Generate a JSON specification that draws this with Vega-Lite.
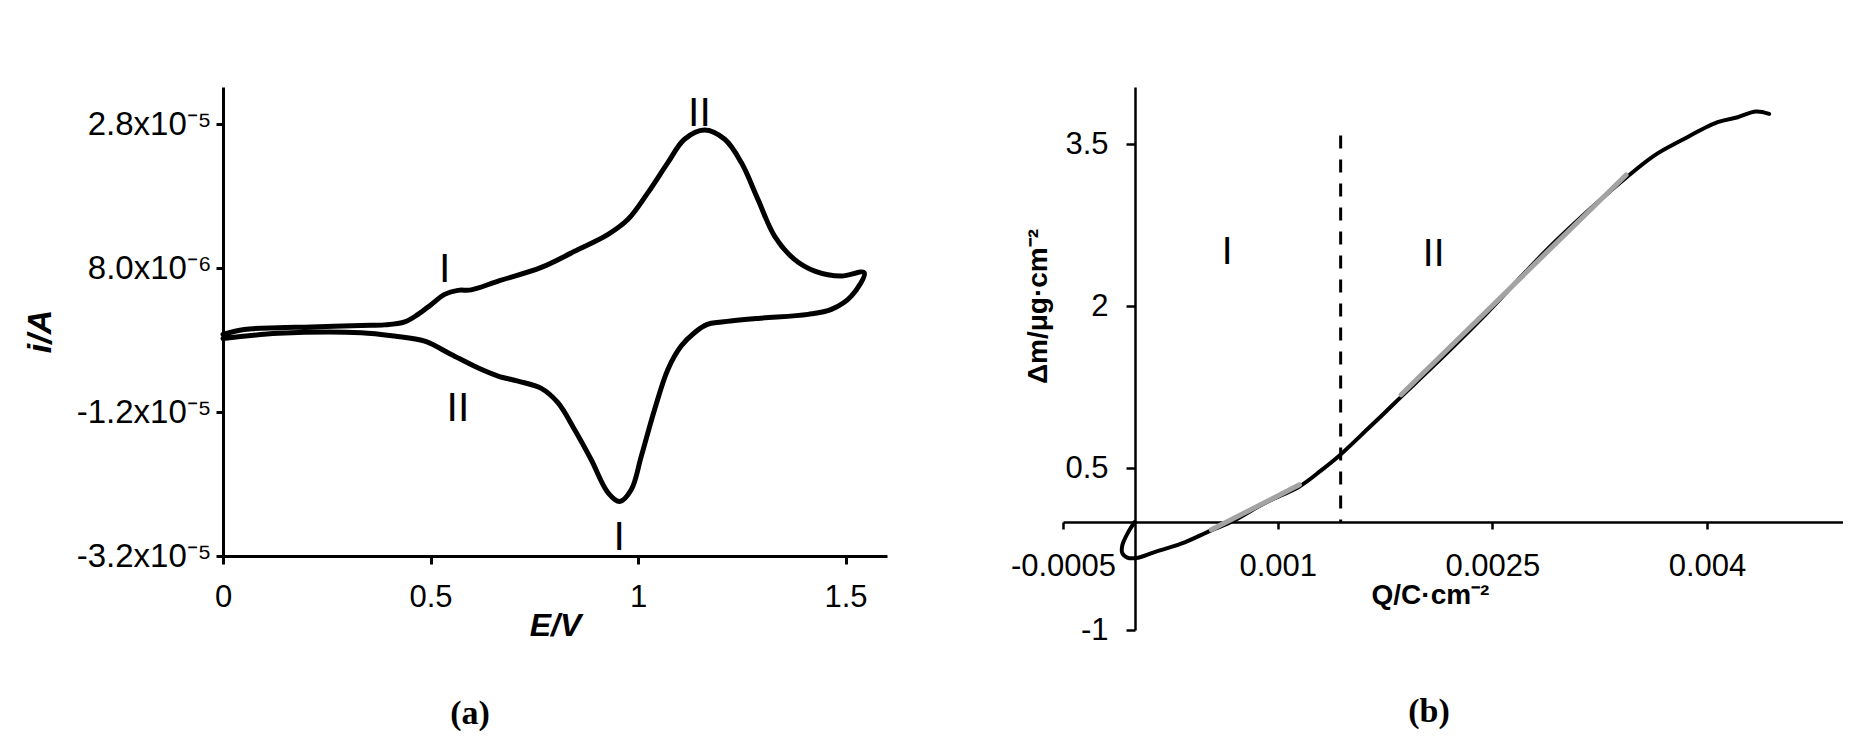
{
  "$schema": "https://vega.github.io/schema/vega-lite/v6.json",
  "background": "white",
  "padding": {"left": 23, "top": 87, "right": 0, "bottom": 0},
  "config": {
    "view": {"stroke": null},
    "font": "Liberation Sans",
    "axis": {"grid": false, "domainColor": "black", "tickColor": "black", "labelColor": "black", "titleColor": "black", "labelFont": "Liberation Sans", "titleFont": "Liberation Sans", "labelFlush": false, "labelOverlap": false}
  },
  "spacing": 176,
  "bounds": "flush",
  "hconcat": [
    {
      "width": 664,
      "height": 469,
      "title": {"text": "(a)", "orient": "bottom", "font": "Liberation Serif", "fontSize": 34, "fontWeight": "bold", "color": "black", "offset": 56, "dx": -85},
      "layer": [
        {
          "data": {"values": [
            {"k": 1, "E": 0.0, "i": -1.19e-6},
            {"k": 2, "E": 0.051, "i": -0.50e-6},
            {"k": 3, "E": 0.133, "i": -0.26e-6},
            {"k": 4, "E": 0.213, "i": -0.18e-6},
            {"k": 5, "E": 0.333, "i": 0.06e-6},
            {"k": 6, "E": 0.389, "i": 0.13e-6},
            {"k": 7, "E": 0.438, "i": 0.55e-6},
            {"k": 8, "E": 0.470, "i": 1.59e-6},
            {"k": 9, "E": 0.502, "i": 2.98e-6},
            {"k": 10, "E": 0.534, "i": 4.37e-6},
            {"k": 11, "E": 0.566, "i": 4.93e-6},
            {"k": 12, "E": 0.598, "i": 5.00e-6},
            {"k": 13, "E": 0.663, "i": 6.22e-6},
            {"k": 14, "E": 0.767, "i": 8.12e-6},
            {"k": 15, "E": 0.847, "i": 10.35e-6},
            {"k": 16, "E": 0.928, "i": 12.71e-6},
            {"k": 17, "E": 0.976, "i": 14.80e-6},
            {"k": 18, "E": 1.024, "i": 18.51e-6},
            {"k": 19, "E": 1.072, "i": 22.69e-6},
            {"k": 20, "E": 1.112, "i": 25.93e-6},
            {"k": 21, "E": 1.160, "i": 27.22e-6},
            {"k": 22, "E": 1.209, "i": 25.93e-6},
            {"k": 23, "E": 1.249, "i": 22.69e-6},
            {"k": 24, "E": 1.289, "i": 17.58e-6},
            {"k": 25, "E": 1.329, "i": 12.48e-6},
            {"k": 26, "E": 1.377, "i": 9.24e-6},
            {"k": 27, "E": 1.426, "i": 7.61e-6},
            {"k": 28, "E": 1.490, "i": 6.91e-6},
            {"k": 29, "E": 1.545, "i": 7.39e-6},
            {"k": 30, "E": 1.514, "i": 4.13e-6},
            {"k": 31, "E": 1.466, "i": 2.28e-6},
            {"k": 32, "E": 1.410, "i": 1.59e-6},
            {"k": 33, "E": 1.289, "i": 1.03e-6},
            {"k": 34, "E": 1.201, "i": 0.52e-6},
            {"k": 35, "E": 1.167, "i": 0.20e-6},
            {"k": 36, "E": 1.136, "i": -0.96e-6},
            {"k": 37, "E": 1.104, "i": -2.82e-6},
            {"k": 38, "E": 1.072, "i": -6.06e-6},
            {"k": 39, "E": 1.040, "i": -11.63e-6},
            {"k": 40, "E": 1.008, "i": -18.12e-6},
            {"k": 41, "E": 0.984, "i": -22.75e-6},
            {"k": 42, "E": 0.956, "i": -24.42e-6},
            {"k": 43, "E": 0.928, "i": -23.21e-6},
            {"k": 44, "E": 0.887, "i": -18.58e-6},
            {"k": 45, "E": 0.847, "i": -14.41e-6},
            {"k": 46, "E": 0.807, "i": -10.69e-6},
            {"k": 47, "E": 0.767, "i": -8.70e-6},
            {"k": 48, "E": 0.711, "i": -7.69e-6},
            {"k": 49, "E": 0.663, "i": -6.99e-6},
            {"k": 50, "E": 0.614, "i": -5.83e-6},
            {"k": 51, "E": 0.550, "i": -3.98e-6},
            {"k": 52, "E": 0.486, "i": -2.13e-6},
            {"k": 53, "E": 0.413, "i": -1.43e-6},
            {"k": 54, "E": 0.333, "i": -0.96e-6},
            {"k": 55, "E": 0.133, "i": -1.05e-6},
            {"k": 56, "E": 0.0, "i": -1.75e-6}
          ]},
          "mark": {"type": "line", "color": "black", "strokeWidth": 5, "interpolate": "catmull-rom", "strokeJoin": "round", "strokeCap": "round"},
          "encoding": {
            "x": {"field": "E", "type": "quantitative", "scale": {"domain": [0, 1.6], "nice": false, "zero": false},
              "axis": {"title": "E/V", "values": [0, 0.5, 1, 1.5], "labelExpr": "'' + datum.value", "labelFontSize": 31, "titleFontSize": 32, "titleFontWeight": "bold", "titleFontStyle": "italic", "tickSize": 8, "tickWidth": 3, "domainWidth": 3, "labelPadding": 18, "titlePadding": -2}},
            "y": {"field": "i", "type": "quantitative", "scale": {"domain": [-3.2e-5, 3.32e-5], "nice": false, "zero": false},
              "axis": {"title": "i/A", "values": [-3.2e-5, -1.2e-5, 8e-6, 2.8e-5], "labelExpr": "datum.value > 2e-5 ? '2.8x10⁻⁵' : datum.value > 0 ? '8.0x10⁻⁶' : datum.value > -2e-5 ? '-1.2x10⁻⁵' : '-3.2x10⁻⁵'", "labelFontSize": 33, "titleFontSize": 34, "titleFontWeight": "bold", "titleFontStyle": "italic", "titleY": 244, "tickSize": 7, "tickWidth": 3, "domainWidth": 3, "labelPadding": 5, "titlePadding": 19}},
            "order": {"field": "k", "type": "quantitative"}
          }
        },
        {
          "data": {"values": [
            {"t": "I", "E": 0.534, "i": 7.75e-6},
            {"t": "II", "E": 1.148, "i": 29.5e-6},
            {"t": "II", "E": 0.566, "i": -11.5e-6},
            {"t": "I", "E": 0.955, "i": -29.5e-6}
          ]},
          "mark": {"type": "text", "fontSize": 41, "font": "Liberation Sans", "color": "black", "baseline": "middle", "align": "center"},
          "encoding": {
            "x": {"field": "E", "type": "quantitative"},
            "y": {"field": "i", "type": "quantitative"},
            "text": {"field": "t"}
          }
        }
      ]
    },
    {
      "width": 780,
      "height": 543,
      "title": {"text": "(b)", "orient": "bottom", "font": "Liberation Serif", "fontSize": 34, "fontWeight": "bold", "color": "black", "offset": 50, "dx": -24},
      "layer": [
        {
          "data": {"values": [
            {"k": 1, "Q": 0.0, "m": 0.0},
            {"k": 2, "Q": -0.000044, "m": -0.093},
            {"k": 3, "Q": -0.000085, "m": -0.213},
            {"k": 4, "Q": -0.000086, "m": -0.287},
            {"k": 5, "Q": -0.000051, "m": -0.329},
            {"k": 6, "Q": 0.000012, "m": -0.333},
            {"k": 7, "Q": 0.000140, "m": -0.278},
            {"k": 8, "Q": 0.000326, "m": -0.201},
            {"k": 9, "Q": 0.000536, "m": -0.077},
            {"k": 10, "Q": 0.000675, "m": 0.0},
            {"k": 11, "Q": 0.000908, "m": 0.175},
            {"k": 12, "Q": 0.001152, "m": 0.33},
            {"k": 13, "Q": 0.001304, "m": 0.479},
            {"k": 14, "Q": 0.001432, "m": 0.617},
            {"k": 15, "Q": 0.001630, "m": 0.864},
            {"k": 16, "Q": 0.001746, "m": 1.010},
            {"k": 17, "Q": 0.001862, "m": 1.160},
            {"k": 18, "Q": 0.002100, "m": 1.460},
            {"k": 19, "Q": 0.002421, "m": 1.880},
            {"k": 20, "Q": 0.002887, "m": 2.530},
            {"k": 21, "Q": 0.003200, "m": 2.920},
            {"k": 22, "Q": 0.003434, "m": 3.190},
            {"k": 23, "Q": 0.003631, "m": 3.395},
            {"k": 24, "Q": 0.003818, "m": 3.534},
            {"k": 25, "Q": 0.004074, "m": 3.704},
            {"k": 26, "Q": 0.004214, "m": 3.750},
            {"k": 27, "Q": 0.004342, "m": 3.803},
            {"k": 28, "Q": 0.004434, "m": 3.781}
          ]},
          "mark": {"type": "line", "color": "black", "strokeWidth": 4, "interpolate": "catmull-rom", "strokeJoin": "round", "strokeCap": "round"},
          "encoding": {
            "x": {"field": "Q", "type": "quantitative", "scale": {"domain": [-0.0005, 0.00495], "nice": false, "zero": false},
              "axis": {"orient": "bottom", "offset": -108, "title": "Q/C·cm⁻²", "titleX": 367, "values": [-0.0005, 0.001, 0.0025, 0.004], "labelExpr": "datum.value < 0 ? '-0.0005' : datum.value < 0.002 ? '0.001' : datum.value < 0.003 ? '0.0025' : '0.004'", "labelFontSize": 31, "titleFontSize": 28, "titleFontWeight": "bold", "tickSize": 7, "tickWidth": 2.5, "domainWidth": 2.5, "labelPadding": 22, "titlePadding": 0}},
            "y": {"field": "m", "type": "quantitative", "scale": {"domain": [-1, 4.03], "nice": false, "zero": false},
              "axis": {"offset": -72, "title": "Δm/μg·cm⁻²", "titleY": 219, "values": [-1, 0.5, 2, 3.5], "labelExpr": "'' + datum.value", "labelFontSize": 31, "titleFontSize": 28, "titleFontWeight": "bold", "tickSize": 9, "tickWidth": 2.5, "domainWidth": 2.5, "labelPadding": 18, "titlePadding": 12}},
            "order": {"field": "k", "type": "quantitative"}
          }
        },
        {
          "data": {"values": [
            {"seg": 1, "Q": 0.000536, "m": -0.072},
            {"seg": 1, "Q": 0.001152, "m": 0.345},
            {"seg": 2, "Q": 0.001862, "m": 1.180},
            {"seg": 2, "Q": 0.003434, "m": 3.215}
          ]},
          "mark": {"type": "line", "color": "#a3a3a3", "strokeWidth": 5, "strokeCap": "round"},
          "encoding": {
            "x": {"field": "Q", "type": "quantitative"},
            "y": {"field": "m", "type": "quantitative"},
            "detail": {"field": "seg"}
          }
        },
        {
          "data": {"values": [{"Q": 0.00144, "m0": 0, "m1": 3.58}]},
          "mark": {"type": "rule", "color": "black", "strokeWidth": 3, "strokeDash": [13, 11]},
          "encoding": {
            "x": {"field": "Q", "type": "quantitative"},
            "y": {"field": "m1", "type": "quantitative"},
            "y2": {"field": "m0"}
          }
        },
        {
          "data": {"values": [
            {"t": "I", "Q": 0.000647, "m": 2.50},
            {"t": "II", "Q": 0.00209, "m": 2.48}
          ]},
          "mark": {"type": "text", "fontSize": 39, "font": "Liberation Sans", "color": "black", "baseline": "middle", "align": "center"},
          "encoding": {
            "x": {"field": "Q", "type": "quantitative"},
            "y": {"field": "m", "type": "quantitative"},
            "text": {"field": "t"}
          }
        }
      ]
    }
  ]
}
